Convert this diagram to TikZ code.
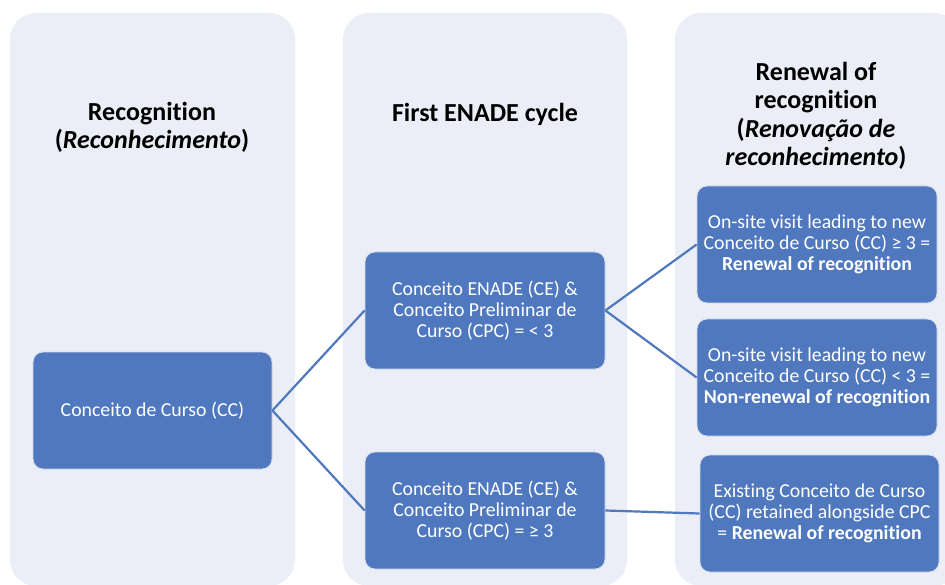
\documentclass[tikz,border=0pt]{standalone}
\usepackage{fontspec}
\setmainfont{Carlito}[Ligatures=NoCommon]
\definecolor{boxblue}{HTML}{4F78BE}
\definecolor{colbg}{HTML}{EBEEF6}
\begin{document}
\begin{tikzpicture}[x=1pt,y=-1pt,
  column/.style={fill=colbg, rounded corners=26pt},
  bluebox/.style={rectangle, rounded corners=10pt, fill=boxblue, draw=white!75!boxblue, line width=0.8pt,
    minimum width=240pt, minimum height=117pt, text=white, align=center, inner sep=0pt,
    font=\fontsize{19.8}{21}\selectfont},
  header/.style={align=center, text=black, font=\fontsize{26}{28.5}\selectfont\bfseries},
  link/.style={draw=boxblue, line width=2.2pt}]
\useasboundingbox (0,0) rectangle (945,585);
\begin{scope}
\clip (0,0) rectangle (945,585);
\fill[column] (10,13) rectangle (295,586);
\fill[column] (343,13) rectangle (627,586);
\fill[column] (675,13) rectangle (960,586);
\end{scope}
\node[header] (h1) at (152,127.5) {Recognition\\(\textit{Reconhecimento})};
\node[header] (h2) at (485,114.5) {First ENADE cycle};
\node[header] (h3) at (816,116) {Renewal of\\recognition\\(\textit{Renovação de}\\\textit{reconhecimento})};
\node[bluebox, minimum width=239pt] (cc) at (152.5,410.5) {Conceito de Curso (CC)};
\node[bluebox] (ce1) at (485,310.5) {Conceito ENADE (CE) \&\\Conceito Preliminar de\\Curso (CPC) = < 3};
\node[bluebox] (ce2) at (485,510.5) {Conceito ENADE (CE) \&\\Conceito Preliminar de\\Curso (CPC) = ≥ 3};
\node[bluebox] (r1) at (817,244.5) {On-site visit leading to new\\Conceito de Curso (CC) ≥ 3 =\\\textbf{Renewal of recognition}};
\node[bluebox] (r2) at (817,377.5) {On-site visit leading to new\\Conceito de Curso (CC) < 3 =\\\textbf{Non-renewal of recognition}};
\node[bluebox, minimum width=239pt] (r3) at (819.5,513.5) {Existing Conceito de Curso\\(CC) retained alongside CPC\\= \textbf{Renewal of recognition}};
\draw[link] (cc.east) -- (ce1.west);
\draw[link] (cc.east) -- (ce2.west);
\draw[link] (ce1.east) -- (r1.west);
\draw[link] (ce1.east) -- (r2.west);
\draw[link] (ce2.east) -- (r3.west);
\end{tikzpicture}
\end{document}
